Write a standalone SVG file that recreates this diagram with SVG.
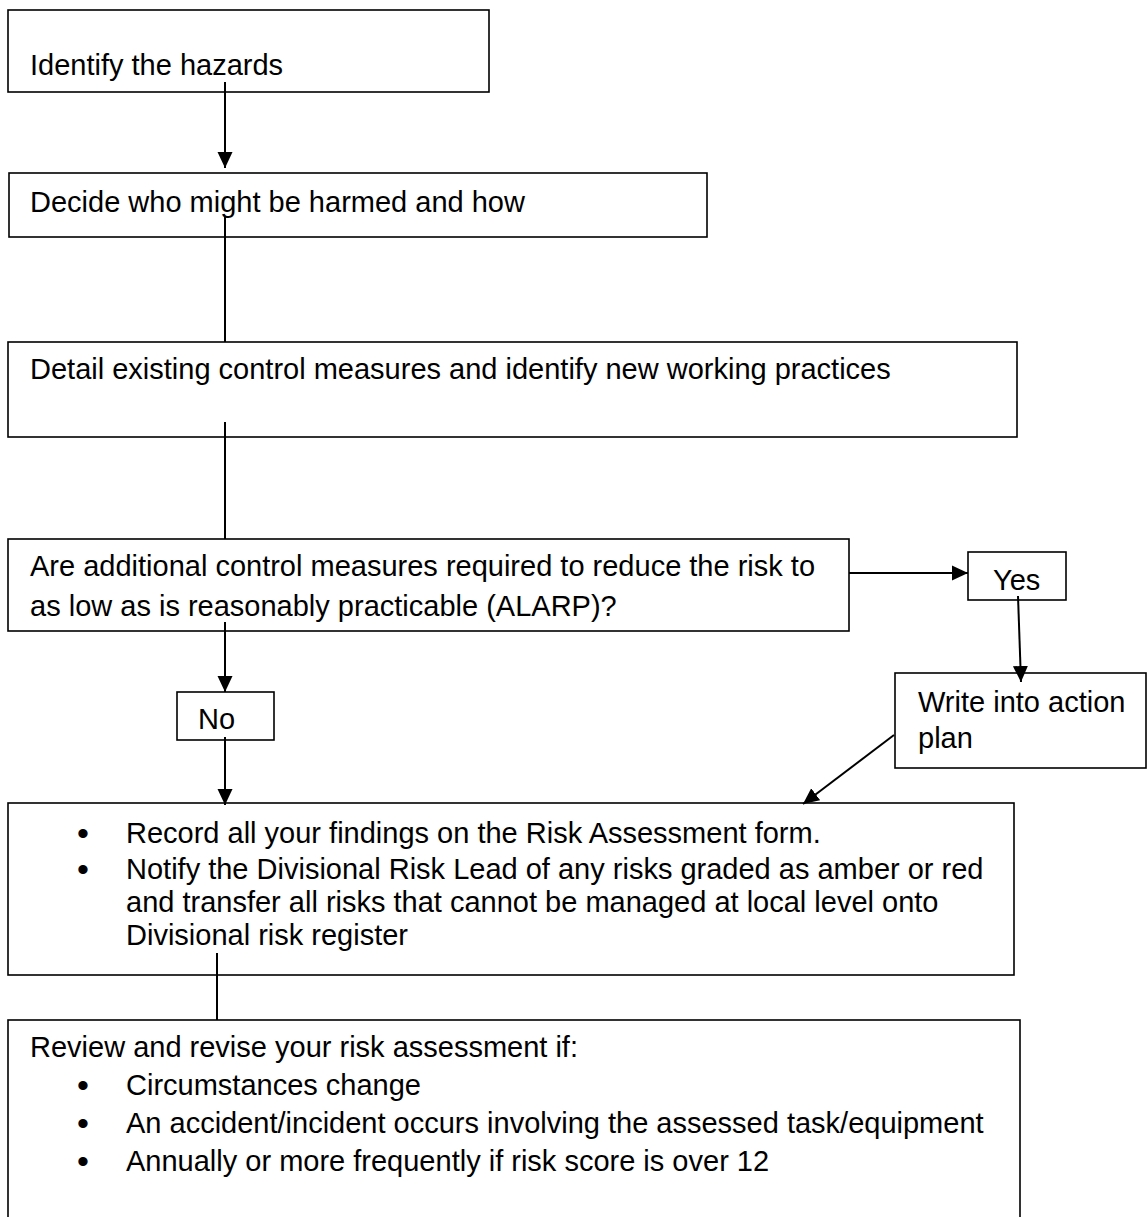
<svg xmlns="http://www.w3.org/2000/svg" width="1147" height="1217" viewBox="0 0 1147 1217">
<style>
  .box { fill: #ffffff; stroke: #000000; stroke-width: 1.6; }
  .t { font-family: "Liberation Sans", Arial, sans-serif; font-size: 29px; fill: #000000; }
  .b { font-family: "Liberation Sans", Arial, sans-serif; font-size: 34px; fill: #000000; text-anchor: middle; }
  .c { stroke: #000000; stroke-width: 2; fill: none; }
  .a { marker-end: url(#arrow); }
</style>
<defs>
  <marker id="arrow" markerUnits="userSpaceOnUse" markerWidth="16" markerHeight="16" viewBox="0 0 16 16" refX="16" refY="8" orient="auto">
    <path d="M0,0.5 L16,8 L0,15.5 Z" fill="#000000"/>
  </marker>
</defs>
<rect width="1147" height="1217" fill="#ffffff"/>

<g id="identify">
  <rect class="box" x="8" y="10" width="481" height="82"/>
  <text class="t" x="30" y="75">Identify the hazards</text>
</g>
<g id="decide">
  <rect class="box" x="9" y="173" width="698" height="64"/>
  <text class="t" x="30" y="212">Decide who might be harmed and how</text>
</g>
<g id="detail">
  <rect class="box" x="8" y="342" width="1009" height="95"/>
  <text class="t" x="30" y="379">Detail existing control measures and identify new working practices</text>
</g>
<g id="additional">
  <rect class="box" x="8" y="539" width="841" height="92"/>
  <text class="t" x="30" y="576">Are additional control measures required to reduce the risk to</text>
  <text class="t" x="30" y="616">as low as is reasonably practicable (ALARP)?</text>
</g>
<g id="yes">
  <rect class="box" x="968" y="552" width="98" height="48"/>
  <text class="t" x="993" y="590">Yes</text>
</g>
<g id="no">
  <rect class="box" x="177" y="692" width="97" height="48"/>
  <text class="t" x="198" y="729">No</text>
</g>
<g id="action">
  <rect class="box" x="895" y="673" width="251" height="95"/>
  <text class="t" x="918" y="712">Write into action</text>
  <text class="t" x="918" y="748">plan</text>
</g>
<g id="record">
  <rect class="box" x="8" y="803" width="1006" height="172"/>
  <text class="b" x="83" y="845">•</text>
  <text class="t" x="126" y="843">Record all your findings on the Risk Assessment form.</text>
  <text class="b" x="83" y="881">•</text>
  <text class="t" x="126" y="879">Notify the Divisional Risk Lead of any risks graded as amber or red</text>
  <text class="t" x="126" y="912">and transfer all risks that cannot be managed at local level onto</text>
  <text class="t" x="126" y="945">Divisional risk register</text>
</g>
<g id="review">
  <rect class="box" x="8" y="1020" width="1012" height="210"/>
  <text class="t" x="30" y="1057">Review and revise your risk assessment if:</text>
  <text class="b" x="83" y="1097">•</text>
  <text class="t" x="126" y="1095">Circumstances change</text>
  <text class="b" x="83" y="1135">•</text>
  <text class="t" x="126" y="1133">An accident/incident occurs involving the assessed task/equipment</text>
  <text class="b" x="83" y="1173">•</text>
  <text class="t" x="126" y="1171">Annually or more frequently if risk score is over 12</text>
</g>

<g id="connectors">
  <line class="c a" x1="225" y1="82" x2="225" y2="168"/>
  <line class="c" x1="225" y1="217" x2="225" y2="342"/>
  <line class="c" x1="225" y1="422" x2="225" y2="539"/>
  <line class="c a" x1="225" y1="622" x2="225" y2="692"/>
  <line class="c a" x1="225" y1="737" x2="225" y2="805"/>
  <line class="c a" x1="849" y1="573" x2="968" y2="573"/>
  <line class="c a" x1="1018" y1="596" x2="1021" y2="682"/>
  <line class="c a" x1="894" y1="735" x2="803" y2="804"/>
  <line class="c" x1="217" y1="953" x2="217" y2="1020"/>
</g>
</svg>
